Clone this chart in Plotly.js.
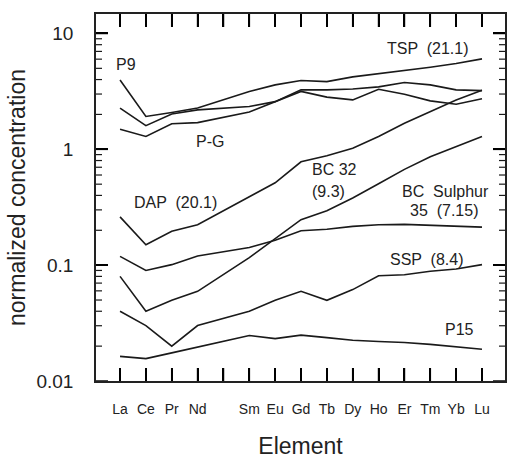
<!DOCTYPE html>
<html>
<head>
<meta charset="utf-8">
<script src="https://cdn.plot.ly/plotly-3.0.1.min.js"></script>
<style>html,body{margin:0;padding:0;background:#fff;}#chart{width:508px;height:460px;}</style>
</head>
<body>
<div id="chart"></div>
<script>
// Element positions (atomic number) used as x values; Pm (61) is skipped in the data
var elements = ['La','Ce','Pr','Nd','Sm','Eu','Gd','Tb','Dy','Ho','Er','Tm','Yb','Lu'];
var atomicNumbers = [57,58,59,60,62,63,64,65,66,67,68,69,70,71];
var tickPositions = [57,58,59,60,61,62,63,64,65,66,67,68,69,70,71];
var tickLabels = ['La','Ce','Pr','Nd','','Sm','Eu','Gd','Tb','Dy','Ho','Er','Tm','Yb','Lu'];
var yTickVals = [0.01, 0.1, 1, 10];
var yTickText = ['0.01', '0.1', '1', '10'];
var yMinorVals = [0.02,0.03,0.04,0.05,0.06,0.07,0.08,0.09,
                  0.2,0.3,0.4,0.5,0.6,0.7,0.8,0.9,
                  2,3,4,5,6,7,8,9];

// Series values (normalized concentration)
var seriesP9  = [3.97,1.92,2.08,2.27,3.15,3.60,3.93,3.84,4.22,4.48,4.77,5.11,5.51,6.03];
var seriesTSP = [2.27,1.60,2.02,2.19,2.34,2.58,3.26,3.26,3.32,3.46,3.77,3.60,3.26,3.21];
var seriesPG  = [1.49,1.29,1.66,1.70,2.10,2.57,3.16,2.82,2.67,3.30,2.99,2.62,2.45,2.73];
var seriesDAP = [0.261,0.150,0.196,0.223,0.390,0.514,0.780,0.879,1.02,1.29,1.68,2.12,2.67,3.23];
var seriesBC32 = [0.080,0.040,0.0497,0.0594,0.116,0.168,0.247,0.295,0.380,0.504,0.671,0.861,1.06,1.29];
var seriesBCS35 = [0.119,0.090,0.101,0.120,0.142,0.164,0.198,0.204,0.216,0.223,0.225,0.222,0.216,0.213];
var seriesSSP = [0.040,0.0301,0.0200,0.0301,0.040,0.0497,0.0594,0.0497,0.0615,0.0811,0.0827,0.0885,0.0927,0.101];
var seriesP15 = [0.0163,0.0156,0.0175,0.0196,0.0247,0.0232,0.0249,0.0237,0.0225,0.0219,0.0215,0.0207,0.0198,0.0188];

var seriesNames = ['P9','TSP (21.1)','P-G','DAP (20.1)','BC 32 (9.3)','BC Sulphur 35 (7.15)','SSP (8.4)','P15'];
var seriesList = [seriesP9, seriesTSP, seriesPG, seriesDAP, seriesBC32, seriesBCS35, seriesSSP, seriesP15];

var traces = seriesList.map(function(vals, i){
  return {
    x: atomicNumbers, y: vals, name: seriesNames[i],
    type: 'scatter', mode: 'lines',
    line: {color: '#1a1a1a', width: 1.6},
    hoverinfo: 'name+y'
  };
});

// plot-area geometry and helpers
var L = 96, R = 505, T = 14, B = 381;
var xRange = [56.07, 71.89];
var yRange = [-2, 1.168];
function px(x){ return (x - L) / (R - L); }
function py(y){ return (B - y) / (B - T); }

// inside tick marks on all four sides, one line segment per tick, in axis units
var xSpan = xRange[1] - xRange[0], ySpan = yRange[1] - yRange[0];
var xTickLenLog = 13 / (B - T) * ySpan;
var yLo = Math.pow(10, yRange[0]), yHi = Math.pow(10, yRange[1]);
tickPositions.forEach(function(p){
  traces.push({x: [p, p], y: [yLo, Math.pow(10, yRange[0] + xTickLenLog)], type: 'scatter', mode: 'lines',
               line: {color: '#1a1a1a', width: 1.6}, hoverinfo: 'skip'});
  traces.push({x: [p, p], y: [Math.pow(10, yRange[1] - xTickLenLog), yHi], type: 'scatter', mode: 'lines',
               line: {color: '#1a1a1a', width: 1.6}, hoverinfo: 'skip'});
});
function yTicks(vals, len, w){
  var d = len / (R - L) * xSpan;
  vals.forEach(function(v){
    traces.push({x: [xRange[0], xRange[0] + d], y: [v, v], type: 'scatter', mode: 'lines',
                 line: {color: '#1a1a1a', width: w}, hoverinfo: 'skip'});
    traces.push({x: [xRange[1] - d, xRange[1]], y: [v, v], type: 'scatter', mode: 'lines',
                 line: {color: '#1a1a1a', width: w}, hoverinfo: 'skip'});
  });
}
yTicks(yTickVals, 12, 1.6);
yTicks(yMinorVals, 6, 1.2);

var labelFont = {family: 'Liberation Sans, Arial, sans-serif', size: 16, color: '#222'};
function lab(text, x, y, anchor){
  return {text: text, xref: 'paper', yref: 'paper', x: px(x), y: py(y),
          xanchor: anchor || 'center', yanchor: 'middle', showarrow: false, font: labelFont};
}

var layout = {
  width: 508, height: 460,
  margin: {l: L, r: 508 - R, t: T, b: 460 - B},
  paper_bgcolor: '#fff', plot_bgcolor: '#fff',
  showlegend: false,
  font: {family: 'Liberation Sans, Arial, sans-serif', color: '#222'},
  xaxis: {
    range: xRange, autorange: false,
    tickmode: 'array', tickvals: tickPositions, ticktext: tickLabels,
    ticks: 'inside', ticklen: 13, tickwidth: 2, tickcolor: 'black',
    showline: true, linecolor: '#222', linewidth: 1.5, mirror: 'ticks',
    showgrid: false, zeroline: false,
    tickfont: {size: 14, color: '#222'},
    ticklabelstandoff: 14,
    title: {text: 'Element', font: {size: 23, color: '#222'}, standoff: 22}
  },
  yaxis: {
    type: 'log', range: yRange, autorange: false,
    tickmode: 'array', tickvals: yTickVals, ticktext: yTickText,
    ticks: 'inside', ticklen: 12, tickwidth: 2, tickcolor: 'black',
    showline: true, linecolor: '#222', linewidth: 1.5, mirror: 'ticks',
    showgrid: false, zeroline: false,
    tickfont: {size: 19, color: '#222'},
    ticklabelstandoff: 17,
    title: {text: 'normalized concentration', font: {size: 23, color: '#222'}, standoff: 4}
  },
  annotations: [
    lab('P9', 126, 64),
    lab('TSP  (21.1)', 428, 48),
    lab('P-G', 210, 141),
    lab('DAP  (20.1)', 175, 202),
    lab('BC 32', 310, 170, 'left'),
    lab('(9.3)', 310, 191, 'left'),
    lab('BC  Sulphur', 445, 192),
    lab('35  (7.15)', 444, 210),
    lab('SSP  (8.4)', 427, 259),
    lab('P15', 459, 329)
  ]
};

Plotly.newPlot('chart', traces, layout, {displayModeBar: false});
</script>
</body>
</html>
